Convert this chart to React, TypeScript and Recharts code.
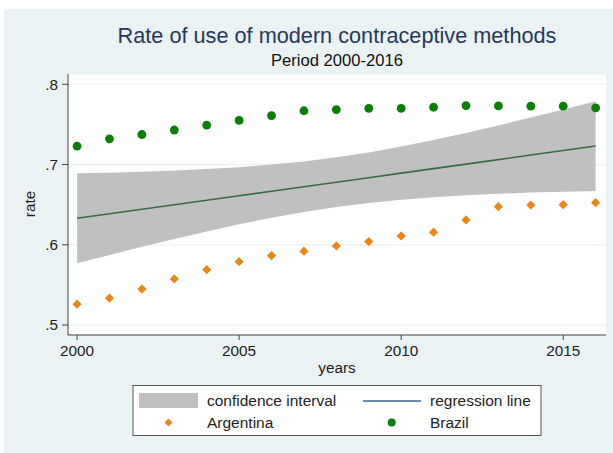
import React from "react";
import {
  ComposedChart,
  Area,
  Line,
  Scatter,
  XAxis,
  YAxis,
  CartesianGrid,
} from "recharts";

const years = [2000, 2001, 2002, 2003, 2004, 2005, 2006, 2007, 2008, 2009, 2010, 2011, 2012, 2013, 2014, 2015, 2016];
const argentina = [0.526, 0.5335, 0.545, 0.5575, 0.569, 0.579, 0.5866, 0.592, 0.5985, 0.604, 0.611, 0.6157, 0.631, 0.6475, 0.6495, 0.65, 0.6525];
const brazil = [0.723, 0.732, 0.7374, 0.743, 0.749, 0.755, 0.761, 0.767, 0.7685, 0.77, 0.77, 0.7714, 0.7734, 0.773, 0.7727, 0.7727, 0.7706];
const fitted = [0.633, 0.6386, 0.6443, 0.6499, 0.6555, 0.6611, 0.6668, 0.6724, 0.678, 0.6836, 0.6893, 0.6949, 0.7005, 0.7061, 0.7118, 0.7174, 0.723];
const ciLow = [0.577, 0.5873, 0.5976, 0.6073, 0.6167, 0.6255, 0.6337, 0.6409, 0.647, 0.6521, 0.6562, 0.6593, 0.6617, 0.6635, 0.6651, 0.6661, 0.667];
const ciHigh = [0.689, 0.6899, 0.691, 0.6925, 0.6943, 0.6967, 0.6999, 0.7039, 0.709, 0.7151, 0.7224, 0.7305, 0.7393, 0.7487, 0.7585, 0.7687, 0.779];
const xTicks = [2000, 2005, 2010, 2015];
const yTicks = [0.5, 0.6, 0.7, 0.8];

const rows = years.map((year, i) => ({
  year,
  ci: [ciLow[i], ciHigh[i]],
  fit: fitted[i],
  arg: argentina[i],
  bra: brazil[i],
}));

const FONT = "'Liberation Sans', Arial, Helvetica, sans-serif";
const BG = "#eaf2f3";
const ORANGE = "#e8861a";
const GREEN = "#0a7d0a";

const Diamond = (props: any) => {
  const { cx, cy } = props;
  if (cx == null || cy == null) return null;
  const s = 4.6;
  return <path d={`M${cx},${cy - s}L${cx + s},${cy}L${cx},${cy + s}L${cx - s},${cy}Z`} fill={ORANGE} />;
};

const Dot = (props: any) => {
  const { cx, cy } = props;
  if (cx == null || cy == null) return null;
  return <circle cx={cx} cy={cy} r={4.4} fill={GREEN} />;
};

const fmtY = (v: number) => String(v).replace(/^0/, "");

export default function App() {
  return (
    <div style={{ position: "absolute", left: 0, top: 0, width: 613, height: 453, background: "#fff", fontFamily: FONT }}>
      <svg width={613} height={453} style={{ position: "absolute", left: 0, top: 0 }}>
        <rect x={4} y={9} width={609} height={444} fill={BG} />
      </svg>
      <div style={{ position: "absolute", left: 0, top: 0 }}>
        <ComposedChart width={613} height={453} data={rows} margin={{ top: 74, right: 7, bottom: 88, left: 28 }}>
          <CartesianGrid vertical={false} stroke={BG} strokeWidth={1.2} fill="#ffffff" />
          <XAxis
            type="number"
            dataKey="year"
            domain={[1999.72, 2016.32]}
            ticks={xTicks}
            allowDataOverflow
            height={30}
            tickSize={5}
            tickMargin={5}
            stroke="#444"
            tick={{ fontSize: 15.3, fill: "#222", fontFamily: FONT }}
          />
          <YAxis
            type="number"
            domain={[0.4876, 0.8128]}
            ticks={yTicks}
            allowDataOverflow
            width={40}
            tickSize={6}
            tickMargin={4}
            stroke="#444"
            tickFormatter={fmtY}
            tick={{ fontSize: 15.3, fill: "#222", fontFamily: FONT }}
          />
          <Area
            type="linear"
            dataKey="ci"
            fill="#c0c0c0"
            fillOpacity={1}
            stroke="none"
            isAnimationActive={false}
          />
          <Line
            type="linear"
            dataKey="fit"
            stroke="#3b6a47"
            strokeWidth={1.6}
            dot={false}
            isAnimationActive={false}
          />
          <Scatter dataKey="arg" shape={Diamond} isAnimationActive={false} />
          <Scatter dataKey="bra" shape={Dot} isAnimationActive={false} />
        </ComposedChart>
      </div>
      <svg width={613} height={453} style={{ position: "absolute", left: 0, top: 0, pointerEvents: "none" }} fontFamily={FONT}>
        <text x={337} y={42.5} textAnchor="middle" fontSize={21.7} fill="#27385a">
          Rate of use of modern contraceptive methods
        </text>
        <text x={337} y={65.5} textAnchor="middle" fontSize={16.6} fill="#111">
          Period 2000-2016
        </text>
        <text x={0} y={0} transform="translate(35,204) rotate(-90)" textAnchor="middle" fontSize={15.3} fill="#222">
          rate
        </text>
        <text x={337} y={373} textAnchor="middle" fontSize={15.3} fill="#222">
          years
        </text>
        <rect x={133} y={385.5} width={408} height={50} fill="#fff" stroke="#555" strokeWidth={1} />
        <rect x={139} y={393} width={59} height={15} fill="#c0c0c0" />
        <text x={207} y={406} fontSize={15.5} fill="#222">confidence interval</text>
        <line x1={363} x2={421} y1={401} y2={401} stroke="#3a6690" strokeWidth={1.3} />
        <text x={430} y={406} fontSize={15.5} fill="#222">regression line</text>
        <path d="M168.5,418.5L172.5,422.5L168.5,426.5L164.5,422.5Z" fill={ORANGE} />
        <text x={207} y={428} fontSize={15.5} fill="#222">Argentina</text>
        <circle cx={391.7} cy={422.5} r={4} fill={GREEN} />
        <text x={430} y={428} fontSize={15.5} fill="#222">Brazil</text>
      </svg>
    </div>
  );
}
